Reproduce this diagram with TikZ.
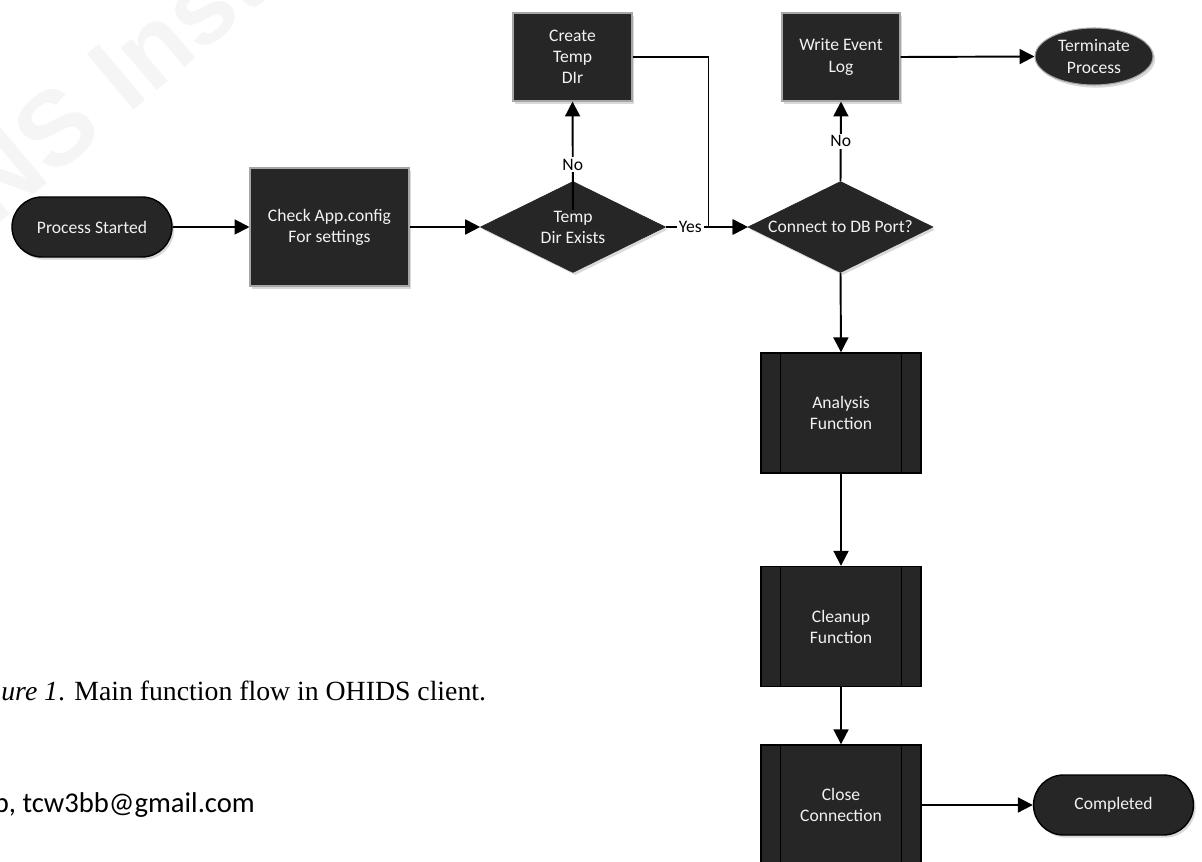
\documentclass[tikz,border=0pt]{standalone}
\usepackage{fontspec}
\setmainfont{Liberation Serif}
\newfontfamily\visiofont{Carlito}
\newfontfamily\markfont{Liberation Sans}
\usepackage{tikz}
\usetikzlibrary{calc}
\usetikzlibrary{arrows.meta}
\usetikzlibrary{shapes.geometric}
\usetikzlibrary{shapes.misc}
\usetikzlibrary{shadows}
\definecolor{boxfill}{HTML}{262626}
\definecolor{boxedge}{HTML}{A6A6A6}
\tikzset{boxshadow/.style={drop shadow={shadow xshift=1.2pt,shadow yshift=-1.5pt,fill=black!25,opacity=.6}}}

\begin{document}
\begin{tikzpicture}[x=0.02cm,y=-0.02cm,
  every node/.style={text=white!95!black,font=\visiofont\fontsize{10}{12}\selectfont,align=center,inner sep=0pt},
  terminal/.style={rounded rectangle,draw=black,line width=.8pt,fill=boxfill,minimum width=3.2cm,minimum height=1.2cm,boxshadow},
  procbox/.style={rectangle,draw=boxedge,line width=.6pt,fill=boxfill,boxshadow},
  decision/.style={diamond,aspect=2,draw=boxfill,fill=boxfill,minimum width=3.7cm,minimum height=1.82cm,boxshadow},
  subproc/.style={rectangle,draw=black,line width=.8pt,fill=boxfill,minimum width=3.2cm,minimum height=2.4cm},
  flow/.style={-{Triangle[length=8.5pt,width=8.5pt]},line width=1.1pt},
  lbl/.style={fill=white,text=black,inner sep=1pt}]
\useasboundingbox (0,0) rectangle (1202,861);
% faint watermark
\node[rotate=40,anchor=base west,text=black!4,font=\markfont\bfseries\fontsize{60}{60}\selectfont](mark) at (-118,322){SANS Institute};

% top row
\node[terminal](start) at (92,227){Process Started};
\node[procbox,minimum width=3.18cm,minimum height=2.36cm](check) at (329.5,227){Check App.config\\For settings};
\node[decision](tempq) at (573,227){Temp\\Dir Exists};
\node[procbox,minimum width=2.38cm,minimum height=1.76cm](mkdir) at (572.5,57){Create\\Temp\\DIr};
\node[decision](dbq) at (840.5,227){Connect to DB Port?};
\node[procbox,minimum width=2.36cm,minimum height=1.76cm](evlog) at (841,57){Write Event\\Log};
\node[ellipse,draw=boxedge,line width=.6pt,fill=boxfill,minimum width=2.36cm,minimum height=1.14cm,boxshadow](term) at (1094,56.5){Terminate\\Process};

% column
\node[subproc](analysis) at (841,413){Analysis\\Function};
\node[subproc](cleanup) at (841,626.5){Cleanup\\Function};
\node[subproc](closeconn) at (841,805){Close\\Connection};
\node[terminal](done) at (1113.5,805){Completed};

\foreach \n in {analysis,cleanup,closeconn}{
\draw[line width=.8pt] ($(\n.north west)+(20,0)$)--($(\n.south west)+(20,0)$);
\draw[line width=.8pt] ($(\n.north east)+(-20,0)$)--($(\n.south east)+(-20,0)$);
}

% connectors
\draw[flow] (start)--(check);
\draw[flow] (check)--(tempq);
\draw[flow] ($(tempq.center)+(0,-17)$)--(mkdir.south) node[lbl,pos=.42]{No};
\draw[flow] (mkdir.east)--++(76,0)|-(dbq.west);
\draw[flow] (tempq.east)--(dbq.west) node[lbl,pos=.3]{Yes};
\draw[flow] (dbq.north)--(evlog.south) node[lbl,pos=.5]{No};
\draw[flow] (evlog.east)--(term.west);
\draw[flow] (dbq.south)--(analysis.north);
\draw[flow] (analysis.south)--(cleanup.north);
\draw[flow] (cleanup.south)--(closeconn.north);
\draw[flow] (closeconn.east)--(done.west);

% caption text
\node[anchor=base west,text=black,font=\rmfamily\fontsize{15.8}{19}\selectfont](cap) at (1,700){\textit{ure 1}. Main function flow in OHIDS client.};
\node[anchor=base west,text=black,font=\visiofont\fontsize{16.3}{19}\selectfont](mail) at (-6.5,812){b, tcw3bb@gmail.com};
\end{tikzpicture}
\end{document}
